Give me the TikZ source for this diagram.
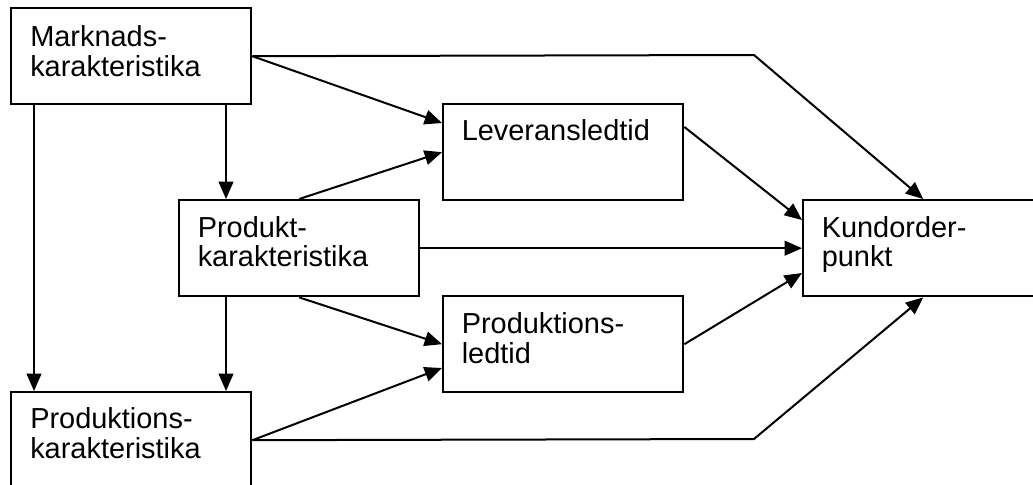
\documentclass[tikz,border=0pt]{standalone}
\usepackage{fontspec}
\setmainfont{Liberation Sans}
\usetikzlibrary{calc,arrows.meta}

\begin{document}
\begin{tikzpicture}[
  x=0.75pt, y=-0.75pt,
  box/.style={draw, line width=1.8pt, rectangle, inner sep=0pt,
              minimum width=180pt, minimum height=72pt, anchor=north west},
  % base anchor sits on the last line of a label
  boxtext/.style={anchor=base west, inner sep=0pt, align=left,
                  font=\fontsize{21.7pt}{22.5pt}\selectfont},
  link/.style={line width=1.5pt, -{Triangle[length=13pt,width=11pt]}},
]
\useasboundingbox (0,0) rectangle (1033,485);
\clip (0,0) rectangle (1033,485);

% boxes
\node[box] (mk)  at (10,7)    {};
\node[box] (lev) at (442,103) {};
\node[box] (pk)  at (178,199) {};
\node[box] (ko)  at (802,199) {};
\node[box] (pl)  at (442,295) {};
\node[box] (prk) at (10,391)  {};

% labels
\node[boxtext] (tmk)  at ($(mk.north west)+(20,70)$)   {Marknads-\\karakteristika};
\node[boxtext] (tlev) at ($(lev.north west)+(19.5,38)$) {Leveransledtid};
\node[boxtext] (tpk)  at ($(pk.north west)+(19.5,68)$)  {Produkt-\\karakteristika};
\node[boxtext] (tko)  at ($(ko.north west)+(19.5,68)$)  {Kundorder-\\punkt};
\node[boxtext] (tpl)  at ($(pl.north west)+(19.5,68)$)  {Produktions-\\ledtid};
\node[boxtext] (tprk) at ($(prk.north west)+(20,67)$)   {Produktions-\\karakteristika};

% bend points of the two long links
\coordinate (bendtop) at (754,55);
\coordinate (bendbot) at (754,439);

% links
\draw[link] (mk.east) -- (bendtop) -- (ko.north);
\draw[link] (mk.east) -- ($(lev.north west)+(0,20)$);
\draw[link] ($(mk.south west)+(24,0)$) -- ($(prk.north west)+(24,0)$);
\draw[link] ($(mk.south west)+(216,0)$) -- ($(pk.north west)+(48,0)$);
\draw[link] (pk.north) -- (lev.west);
\draw[link] (pk.east) -- (ko.west);
\draw[link] ($(pk.south west)+(48,0)$) -- ($(prk.north west)+(216,0)$);
\draw[link] (pk.south) -- (pl.west);
\draw[link] (prk.east) -- ($(pl.north west)+(0,73)$);
\draw[link] (prk.east) -- (bendbot) -- (ko.south);
\draw[link] ($(lev.north east)+(0,24)$) -- ($(ko.north west)+(0,21)$);
\draw[link] (pl.east) -- ($(ko.north west)+(0,74)$);
\end{tikzpicture}
\end{document}
